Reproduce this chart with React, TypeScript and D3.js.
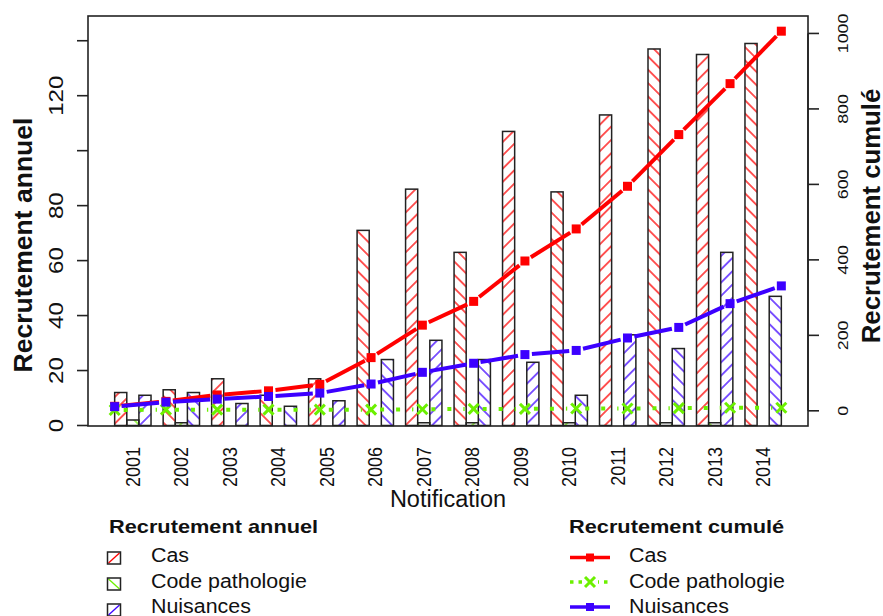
import React from "react";
import * as d3 from "d3";

const years = ["2001","2002","2003","2004","2005","2006","2007","2008","2009","2010","2011","2012","2013","2014"];
const cas = [12, 13, 17, 11, 17, 71, 86, 63, 107, 85, 113, 137, 135, 139];
const codePatho = [2, 1, 0, 0, 0, 0, 1, 1, 0, 1, 0, 1, 1, 0];
const nuisances = [11, 12, 8, 7, 9, 24, 31, 24, 23, 11, 33, 28, 63, 47];
const casCumul = [12, 25, 42, 53, 70, 141, 227, 290, 397, 482, 595, 732, 867, 1006];
const codeCumul = [2, 3, 3, 3, 3, 3, 4, 5, 5, 6, 6, 7, 8, 8];
const nuisCumul = [11, 23, 31, 38, 47, 71, 102, 126, 149, 160, 193, 221, 284, 331];
const leftTicks = [0, 20, 40, 60, 80, 100, 120, 140];
const leftTickLabels = ["0", "20", "40", "60", "80", "", "120", ""];
const rightTicks = [0, 200, 400, 600, 800, 1000];
const seriesNames = ["Cas", "Code pathologie", "Nuisances"];

const RED = "#ff0000";
const GREEN = "#6cf000";
const BLUE = "#3c00ff";
const colors = [RED, GREEN, BLUE];
const FONT = "Liberation Sans, Arial, Helvetica, sans-serif";

const PL = 88, PR = 808, PT = 16, PB = 426;

function Txt(props: any) {
  const { x, y, rot = 0, fs, sx = 1, sy = 1, anchor = "start", bold = false, children } = props;
  return (
    <text
      transform={`translate(${x},${y}) rotate(${rot}) scale(${sx},${sy})`}
      fontSize={fs}
      textAnchor={anchor}
      fontFamily={FONT}
      fontWeight={bold ? 700 : 400}
      fill="#111"
    >
      {children}
    </text>
  );
}

function segs(pts: [number, number][], gap: number) {
  const out: [number, number, number, number][] = [];
  for (let i = 0; i < pts.length - 1; i++) {
    const [x1, y1] = pts[i];
    const [x2, y2] = pts[i + 1];
    const dx = x2 - x1, dy = y2 - y1;
    const L = Math.hypot(dx, dy);
    if (L <= 2 * gap) continue;
    const ux = dx / L, uy = dy / L;
    out.push([x1 + ux * gap, y1 + uy * gap, x2 - ux * gap, y2 - uy * gap]);
  }
  return out;
}

export default function App() {
  const xBar = d3.scaleLinear().domain([-1.2, 58.2]).range([PL, PR]);
  const xLine = d3.scaleLinear().domain([0.48, 14.52]).range([PL, PR]);
  const yLeft = d3.scaleLinear().domain([0, 149]).range([425.5, PT]);
  const M = d3.max(casCumul) as number;
  const yRight = d3.scaleLinear().domain([-0.04 * M, 1.04 * M]).range([PB, PT]);

  const annual = [cas, codePatho, nuisances];
  const cumul = [casCumul, codeCumul, nuisCumul];

  const bars: any[] = [];
  years.forEach((yr, g) => {
    annual.forEach((arr, s) => {
      const v = arr[g];
      if (v <= 0) return;
      const idx = g * 3 + s;
      const ang = idx % 2 === 0 ? 45 : 135;
      const u = 1 + 4 * g + s;
      const x0 = xBar(u), x1 = xBar(u + 1);
      const y0 = yLeft(0), y1 = yLeft(v);
      bars.push(
        <g key={`b${g}-${s}`}>
          <rect x={x0} y={y1} width={x1 - x0} height={y0 - y1} fill={`url(#h${s}-${ang})`} />
          <rect x={x0} y={y1} width={x1 - x0} height={y0 - y1} fill="none" stroke="#222" strokeWidth={1.5} />
        </g>
      );
    });
  });

  const linePts = cumul.map((arr) => arr.map((v, i) => [xLine(i + 1), yRight(v)] as [number, number]));

  const legRowsL = [558, 584, 610];
  const legTextY = [562, 588, 613];
  const legRowsR = [557.5, 582, 607];

  return (
    <svg width={883} height={616} style={{ position: "absolute", left: 0, top: 0, background: "#fff" }}>
      <defs>
        {colors.map((c, s) =>
          [45, 135].map((ang) => (
            <pattern
              key={`p${s}-${ang}`}
              id={`h${s}-${ang}`}
              patternUnits="userSpaceOnUse"
              width={9.4}
              height={9.4}
              patternTransform={`rotate(${ang === 45 ? 45 : -45})`}
            >
              <line x1={4.7} y1={0} x2={4.7} y2={9.4} stroke={c} strokeWidth={1.3} />
            </pattern>
          ))
        )}
      </defs>
      <rect x={0} y={0} width={883} height={616} fill="#fff" />

      {bars}

      {/* cumulative lines */}
      {[0, 1, 2].map((s) => {
        const pts = linePts[s];
        const isGreen = s === 1;
        return (
          <g key={`l${s}`}>
            {segs(pts, isGreen ? 9 : 7).map((sg, i) => (
              <line
                key={i}
                x1={sg[0]} y1={sg[1]} x2={sg[2]} y2={sg[3]}
                stroke={colors[s]}
                strokeWidth={4}
                strokeDasharray={isGreen ? "4 12" : undefined}
              />
            ))}
            {pts.map(([px, py], i) =>
              isGreen ? (
                <g key={i} stroke={GREEN} strokeWidth={3}>
                  <line x1={px - 5} y1={py - 5} x2={px + 5} y2={py + 5} />
                  <line x1={px - 5} y1={py + 5} x2={px + 5} y2={py - 5} />
                </g>
              ) : (
                <rect key={i} x={px - 4.5} y={py - 4.5} width={9} height={9} fill={colors[s]} />
              )
            )}
          </g>
        );
      })}

      {/* box */}
      <rect x={PL} y={PT} width={PR - PL} height={PB - PT} fill="none" stroke="#222" strokeWidth={1.6} />

      {/* left axis */}
      {leftTicks.map((t, i) => (
        <g key={`lt${t}`}>
          <line x1={77} x2={PL} y1={yLeft(t)} y2={yLeft(t)} stroke="#222" strokeWidth={1.6} />
          {leftTickLabels[i] && (
            <Txt x={63} y={yLeft(t)} rot={-90} fs={21} sx={1.15} anchor="middle">{leftTickLabels[i]}</Txt>
          )}
        </g>
      ))}

      {/* right axis */}
      <line x1={PR} x2={PR} y1={yRight(0)} y2={yRight(1000)} stroke="#222" strokeWidth={1.6} />
      {rightTicks.map((t) => (
        <g key={`rt${t}`}>
          <line x1={PR} x2={819} y1={yRight(t)} y2={yRight(t)} stroke="#222" strokeWidth={1.6} />
          <Txt x={847.5} y={yRight(t)} rot={-90} fs={15.5} sx={1.15} anchor="middle">{t}</Txt>
        </g>
      ))}

      {/* x labels */}
      {years.map((yr, g) => (
        <Txt key={yr} x={xBar(1 + 4 * g + 1.5) + 7} y={447} rot={-90} fs={18} sy={1.1} anchor="end">{yr}</Txt>
      ))}

      <Txt x={448} y={507} fs={23.5} anchor="middle">Notification</Txt>
      <Txt x={31.5} y={245} rot={-90} fs={25.5} sx={1.04} anchor="middle" bold>Recrutement annuel</Txt>
      <Txt x={879.5} y={216} rot={-90} fs={25} sx={1.03} anchor="middle" bold>Recrutement cumulé</Txt>

      {/* legend annuel */}
      <Txt x={109} y={533} fs={18.6} sx={1.17} bold>Recrutement annuel</Txt>
      {seriesNames.map((n, s) => {
        const cy = legRowsL[s];
        const bx = 107.5, bw = 13, bh = 12, by = cy - 6;
        const ang = s === 1 ? 135 : 45;
        return (
          <g key={`la${s}`}>
            {ang === 45 ? (
              <line x1={bx + 1} y1={by + bh - 1} x2={bx + bw - 1} y2={by + 1} stroke={colors[s]} strokeWidth={1.3} />
            ) : (
              <line x1={bx + 1} y1={by + 1} x2={bx + bw - 1} y2={by + bh - 1} stroke={colors[s]} strokeWidth={1.3} />
            )}
            <rect x={bx} y={by} width={bw} height={bh} fill="none" stroke="#222" strokeWidth={1.5} />
            <Txt x={151} y={legTextY[s]} fs={20} sx={1.07}>{n}</Txt>
          </g>
        );
      })}

      {/* legend cumulé */}
      <Txt x={569} y={533} fs={18.6} sx={1.17} bold>Recrutement cumulé</Txt>
      {seriesNames.map((n, s) => {
        const cy = legRowsR[s];
        const isGreen = s === 1;
        return (
          <g key={`lc${s}`}>
            {isGreen ? (
              <g>
                <line x1={570} x2={610} y1={cy} y2={cy} stroke={GREEN} strokeWidth={3.5} strokeDasharray="3.5 5" />
                <rect x={582} y={cy - 7} width={16} height={14} fill="#fff" />
                <g stroke={GREEN} strokeWidth={3}>
                  <line x1={585} y1={cy - 5} x2={595} y2={cy + 5} />
                  <line x1={585} y1={cy + 5} x2={595} y2={cy - 5} />
                </g>
              </g>
            ) : (
              <g>
                <line x1={570} x2={610} y1={cy} y2={cy} stroke={colors[s]} strokeWidth={3.5} />
                <rect x={586} y={cy - 4} width={8} height={8} fill={colors[s]} />
              </g>
            )}
            <Txt x={629} y={legTextY[s]} fs={20} sx={1.07}>{n}</Txt>
          </g>
        );
      })}
    </svg>
  );
}
